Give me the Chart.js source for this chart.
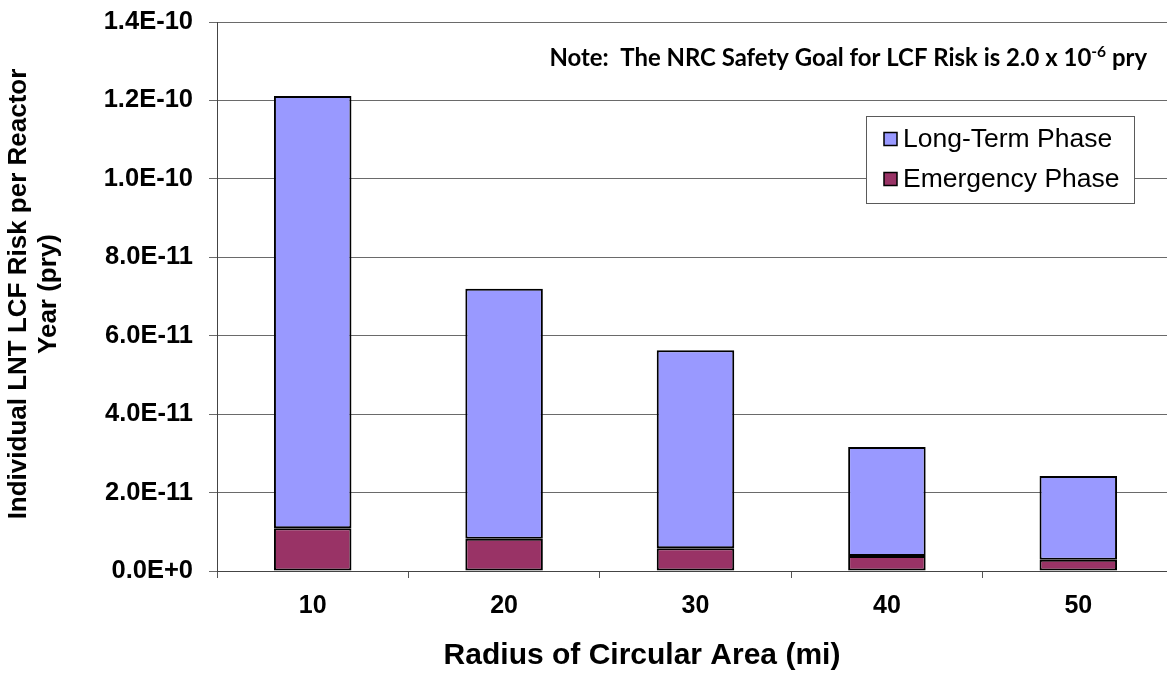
<!DOCTYPE html>
<html>
<head>
<meta charset="utf-8">
<script src="https://cdn.jsdelivr.net/npm/chart.js@4.4.1/dist/chart.umd.min.js"></script>
<style>
  html, body { margin: 0; padding: 0; background: #fff; overflow: hidden; }
  #wrap { width: 1176px; height: 673px; }
</style>
</head>
<body>
<div id="wrap"><canvas id="c" width="1176" height="673"></canvas></div>
<script>
const categories = ['10', '20', '30', '40', '50'];
const emergencyPhase = [1.09e-11, 8.2e-12, 5.8e-12, 3.8e-12, 2.9e-12];
const longTermPhase = [1.102e-10, 6.38e-11, 5.05e-11, 2.78e-11, 2.13e-11];
const seriesLabels = ['Emergency Phase', 'Long-Term Phase'];
const seriesColors = ['#993366', '#9999FF'];
const yTitleLines = ['Individual LNT LCF Risk per Reactor', 'Year (pry)'];
const xTitle = 'Radius of Circular Area (mi)';
const noteMain = 'Note:  The NRC Safety Goal for LCF Risk is 2.0 x 10';
const noteSup = '-6';
const noteEnd = ' pry';

function sci(v) {
  if (Math.abs(v) < 1e-30) return '0.0E+0';
  const e = Math.floor(Math.log10(Math.abs(v)) + 1e-9);
  const m = v / Math.pow(10, e);
  return m.toFixed(1) + 'E' + (e < 0 ? '-' : '+') + Math.abs(e);
}

const SANS = '"Liberation Sans", Arial, sans-serif';

const decorPlugin = {
  id: 'decor',
  afterDraw(chart) {
    const ctx = chart.ctx;
    ctx.save();
    // Y axis title (two lines, rotated)
    ctx.fillStyle = '#000';
    ctx.font = 'bold 26px ' + SANS;
    ctx.textAlign = 'center';
    ctx.textBaseline = 'middle';
    const yc = 294;
    const xs = [19, 49];
    yTitleLines.forEach((t, i) => {
      ctx.save();
      ctx.translate(xs[i], yc);
      ctx.rotate(-Math.PI / 2);
      ctx.fillText(t, 0, 0);
      ctx.restore();
    });
    // X axis title
    ctx.font = 'bold 30px ' + SANS;
    ctx.fillText(xTitle, 642, 656);

    // Note text
    let size = 17;
    const fam = 'Lato, "Open Sans", sans-serif';
    const measure = (s) => {
      ctx.font = 'bold ' + s + 'px ' + fam;
      const a = ctx.measureText(noteMain).width;
      const c = ctx.measureText(noteEnd).width;
      ctx.font = 'bold ' + (s * 0.65) + 'px ' + fam;
      const b = ctx.measureText(noteSup).width;
      return a + b + c;
    };
    size = size * 598 / measure(size);
    let x = 1147 - measure(size);
    const base = 66;
    ctx.textAlign = 'left';
    ctx.textBaseline = 'alphabetic';
    ctx.font = 'bold ' + size + 'px ' + fam;
    ctx.fillText(noteMain, x, base);
    x += ctx.measureText(noteMain).width;
    ctx.font = 'bold ' + (size * 0.65) + 'px ' + fam;
    ctx.fillText(noteSup, x, base - size * 0.38);
    x += ctx.measureText(noteSup).width;
    ctx.font = 'bold ' + size + 'px ' + fam;
    ctx.fillText(noteEnd, x, base);

    // Legend box
    const bx = 866, by = 116, bw = 268, bh = 87;
    ctx.fillStyle = '#fff';
    ctx.fillRect(bx, by, bw, bh);
    ctx.strokeStyle = '#5a5a5a';
    ctx.lineWidth = 1;
    ctx.strokeRect(bx + 0.5, by + 0.5, bw, bh);
    const items = chart.data.datasets.map((d) => ({ label: d.label, color: d.backgroundColor })).reverse();
    const rows = [139, 179];
    ctx.font = '26.5px ' + SANS;
    ctx.textBaseline = 'middle';
    items.forEach((it, i) => {
      const cy = rows[i];
      ctx.fillStyle = it.color;
      ctx.fillRect(884, cy - 6.5, 13, 13);
      ctx.strokeStyle = '#000';
      ctx.lineWidth = 1.5;
      ctx.strokeRect(884, cy - 6.5, 13, 13);
      ctx.fillStyle = '#000';
      ctx.fillText(it.label, 903, cy + 1);
    });
    ctx.restore();
  }
};

new Chart(document.getElementById('c'), {
  type: 'bar',
  data: {
    labels: categories,
    datasets: [
      {
        label: seriesLabels[0],
        data: emergencyPhase,
        backgroundColor: seriesColors[0],
        borderColor: '#000',
        borderWidth: 2,
        borderSkipped: false,
        barPercentage: 0.405,
        categoryPercentage: 1.0
      },
      {
        label: seriesLabels[1],
        data: longTermPhase,
        backgroundColor: seriesColors[1],
        borderColor: '#000',
        borderWidth: 2,
        borderSkipped: false,
        barPercentage: 0.405,
        categoryPercentage: 1.0
      }
    ]
  },
  options: {
    responsive: false,
    animation: false,
    devicePixelRatio: 1,
    layout: { padding: { top: 22, right: 2, left: 0, bottom: 0 } },
    plugins: {
      legend: { display: false },
      tooltip: { enabled: false }
    },
    scales: {
      x: {
        stacked: true,
        afterFit(scale) { scale.height = 102; },
        grid: {
          display: true,
          drawOnChartArea: false,
          drawTicks: true,
          tickLength: 7,
          color: '#555',
          offset: true
        },
        border: { display: true, color: '#444', width: 1 },
        ticks: {
          color: '#000',
          font: { family: SANS, size: 25, weight: 'bold' },
          padding: 13,
          maxRotation: 0
        }
      },
      y: {
        stacked: true,
        min: 0,
        max: 1.4e-10,
        afterFit(scale) { scale.width = 217; scale.paddingTop = 0; scale.paddingBottom = 0; },
        afterBuildTicks(scale) {
          const t = [];
          for (let i = 0; i <= 7; i++) t.push({ value: i * 2e-11 });
          scale.ticks = t;
        },
        grid: {
          color: '#6a6a6a',
          lineWidth: 1,
          drawTicks: true,
          tickLength: 8
        },
        border: { display: true, color: '#444', width: 1 },
        ticks: {
          color: '#000',
          font: { family: SANS, size: 25.5, weight: 'bold' },
          padding: 16,
          callback: (v) => sci(v)
        }
      }
    }
  },
  plugins: [decorPlugin]
});
</script>
</body>
</html>
